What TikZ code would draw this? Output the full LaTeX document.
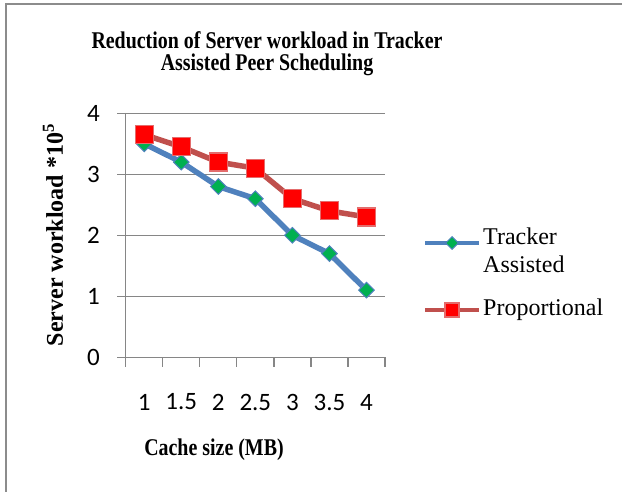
\documentclass[tikz,border=0pt]{standalone}
\usepackage{fontspec}
\setmainfont{Liberation Serif}
\newfontfamily\tickfont{Carlito}
\usetikzlibrary{shapes.geometric}
\definecolor{gridc}{RGB}{134,134,134}
\definecolor{framec}{RGB}{140,140,140}
\definecolor{blueline}{RGB}{79,129,189}
\definecolor{redline}{RGB}{192,80,77}
\definecolor{greenmk}{RGB}{0,176,80}
\definecolor{redmk}{RGB}{255,0,0}
\definecolor{redborder}{RGB}{228,108,108}
\tikzset{
  grid line/.style={gridc, line width=1.3pt},
  tick lbl/.style={font=\tickfont\fontsize{25}{28}\selectfont, inner sep=0pt},
  bold lbl/.style={font=\bfseries\fontsize{24}{26}\selectfont, inner sep=0pt},
  legend lbl/.style={font=\fontsize{24}{28}\selectfont, inner sep=0pt, align=left},
  diamondmk/.style={diamond, fill=greenmk, draw=blueline, line width=1pt, minimum size=16pt, inner sep=0pt},
  squaremk/.style={rectangle, fill=redmk, draw=redborder, line width=1.2pt, minimum size=18pt, inner sep=0pt},
  blue series/.style={blueline, line width=5.5pt, line join=round},
  red series/.style={redline, line width=5.5pt, line join=round},
}
\begin{document}
\begin{tikzpicture}[x=1pt,y=-1pt]
\useasboundingbox (0,0) rectangle (622,492);
\fill[white] (0,0) rectangle (622,492);
% frame
\draw[framec, line width=2pt] (5.5,492) -- (5.5,4.5) -- (622,4.5);
% title
\node[bold lbl] (title1) at (267,40) {\scalebox{0.83}[1]{Reduction of Server workload in Tracker}};
\node[bold lbl] (title2) at (267,65) {\scalebox{0.83}[1]{Assisted Peer Scheduling}};
% grid lines and y ticks
\foreach \v in {0,...,4}{
  \draw[grid line] (117,{357.3-61*\v}) -- (385,{357.3-61*\v});
  \node[tick lbl, anchor=east] (ylab\v) at (100,{357.3-61*\v}) {\v};
}
% y axis
\draw[grid line] (125.7,113) -- (125.7,366.5);
% x ticks
\foreach \i in {1,...,7}{
  \draw[grid line] ({125.7+37.04*\i},357.3) -- ({125.7+37.04*\i},366.5);
}
% x labels
\foreach \i/\t in {0/1,1/1.5,2/2,3/2.5,4/3,5/3.5,6/4}{
  \node[tick lbl] (xlab\i) at ({125.7+37.04*(\i+0.5)},402) {\t};
}
% axis titles
\node[bold lbl] (xtitle) at (214,450) {\scalebox{0.83}[1]{Cache size (MB)}};
\node[bold lbl, rotate=90] (ytitle) at (53,235) {Server workload *10\textsuperscript{5}};
% tracker series
\foreach \i/\v in {1/3.5,2/3.2,3/2.8,4/2.6,5/2.0,6/1.7,7/1.1}{
  \coordinate (t\i) at ({125.7+37.04*(\i-0.5)},{357.3-61*\v});
}
\draw[blue series] (t1) -- (t2) -- (t3) -- (t4) -- (t5) -- (t6) -- (t7);
\foreach \i in {1,...,7}{ \node[diamondmk] (tm\i) at (t\i) {}; }
% proportional series
\foreach \i/\v in {1/3.65,2/3.45,3/3.2,4/3.1,5/2.6,6/2.4,7/2.3}{
  \coordinate (p\i) at ({125.7+37.04*(\i-0.5)},{357.3-61*\v});
}
\draw[red series] (p1) -- (p2) -- (p3) -- (p4) -- (p5) -- (p6) -- (p7);
\foreach \i in {1,...,7}{ \node[squaremk] (pm\i) at (p\i) {}; }
% legend
\coordinate (lb1) at (425,243);
\coordinate (lb2) at (479,243);
\draw[blueline, line width=4pt] (lb1) -- (lb2);
\node[diamondmk, minimum size=13pt] (lbm) at (452,243) {};
\node[legend lbl, anchor=north west] (lbt) at (483,228) {Tracker\\Assisted};
\coordinate (lr1) at (425,310);
\coordinate (lr2) at (479,310);
\draw[redline, line width=4pt] (lr1) -- (lr2);
\node[squaremk, minimum size=14pt] (lrm) at (452,310) {};
\node[legend lbl, anchor=west] (lrt) at (483,310) {Proportional};
\end{tikzpicture}
\end{document}
